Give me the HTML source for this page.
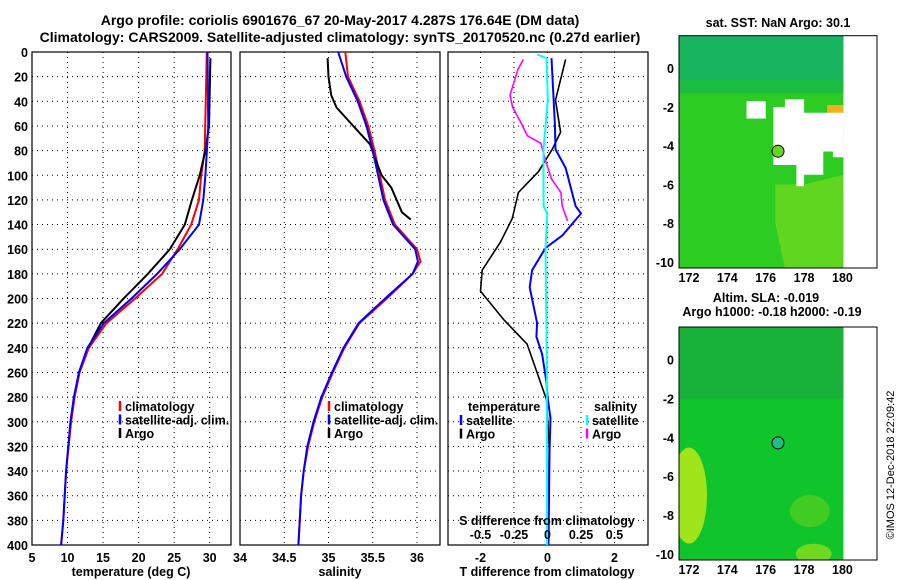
<!DOCTYPE html>
<html><head><meta charset="utf-8">
<style>
html,body{margin:0;padding:0;background:#fff;}
svg{display:block;font-family:"Liberation Sans",sans-serif;font-weight:bold;}
</style></head>
<body>
<svg id="c" width="900" height="580" viewBox="0 0 900 580" xmlns="http://www.w3.org/2000/svg">
<defs id="defs"></defs>
<text x="340" y="25" font-size="14" text-anchor="middle">Argo profile: coriolis 6901676_67 20-May-2017 4.287S 176.64E (DM data)</text>
<text x="340" y="42" font-size="14" text-anchor="middle">Climatology: CARS2009. Satellite-adjusted climatology: synTS_20170520.nc (0.27d earlier)</text>
<g id="g"></g>
</svg>
<script>
// ---- data ----
const depthTicks=[0,20,40,60,80,100,120,140,160,180,200,220,240,260,280,300,320,340,360,380,400];
const tempTicks=[5,10,15,20,25,30];
const salTicks=[34,34.5,35,35.5,36];
const dTTicks=[-2,-1,0,1,2];
const dTLabels=[-2,0,2];
const dSLabels=[-0.5,-0.25,0,0.25,0.5];
const climTdep=[0,80,100,120,140,160,180,200,220,240,260,280,300,340,380,400];
const climT=[29.6,29.3,28.8,28.5,27.4,25.5,23.3,19.5,15.5,13.0,11.7,11.0,10.5,9.8,9.4,9.1];
const satTdep=[0,60,100,120,140,160,180,200,220,240,260,280,300,340,380,400];
const satT=[29.7,29.8,29.4,29.1,28.5,25.8,22.6,19.0,15.1,12.8,11.6,10.9,10.4,9.8,9.4,9.1];
const argoTdep=[5,60,80,100,120,140,160,180,200,220,240];
const argoT=[30.1,29.9,29.4,28.6,27.5,26.5,24.4,21.3,17.9,14.7,12.9];
const climSdep=[0,20,40,60,80,100,120,140,160,170,180,200,220,240,260,280,300,320,340,360,400];
const climS=[35.19,35.22,35.35,35.45,35.52,35.58,35.64,35.75,36.0,36.04,35.95,35.66,35.35,35.18,35.05,34.93,34.84,34.77,34.72,34.69,34.66];
const satSdep=[0,20,40,60,80,100,120,140,160,170,180,200,220,240,260,280,300,320,340,360,400];
const satS=[35.11,35.2,35.33,35.43,35.5,35.56,35.62,35.73,35.98,36.01,35.95,35.64,35.34,35.17,35.04,34.92,34.83,34.76,34.72,34.69,34.66];
const argoSdep=[5,20,35,45,60,75,85,100,110,120,130,136];
const argoS=[34.99,35.0,35.03,35.09,35.28,35.47,35.52,35.6,35.71,35.77,35.83,35.93];
const dTsatDep=[5,59,79,94,125,131,149,159,177,191,220,231,245,268,280,297,325,400];
const dTsat=[0.12,0.22,0.24,0.54,0.84,1.0,0.44,-0.06,-0.46,-0.53,-0.31,-0.33,-0.16,-0.03,0,0.09,0.06,0.03];
const dTargoDep=[6,39,65,79,97,114,135,154,177,194,217,237,282,320,400];
const dTargo=[0.54,0.24,0.39,0.14,-0.27,-0.87,-1.05,-1.4,-1.95,-2.0,-1.31,-0.61,-0.03,0.05,0.03];
const dSsatDep=[2,5,39,79,125,131,159,250,400];
const dSsat=[-0.077,-0.007,0.002,-0.03,-0.03,-0.002,-0.015,-0.005,-0.003];
const dSargoDep=[6,14,35,45,57,68,74,88,103,114,125,137];
const dSargo=[-0.18,-0.22,-0.28,-0.26,-0.2,-0.15,-0.05,-0.015,0.03,0.1,0.11,0.15];
const lonTicks=[172,174,176,178,180];
const latTicks=[0,-2,-4,-6,-8,-10];
const argoLon=176.64, argoLat=-4.287;

const NS="http://www.w3.org/2000/svg";
const G=document.getElementById('g');
const DEFS=document.getElementById('defs');
function el(tag,attrs,parent){const e=document.createElementNS(NS,tag);for(const k in attrs)e.setAttribute(k,attrs[k]);(parent||G).appendChild(e);return e;}
function txt(x,y,s,size,anchor,parent){const t=el('text',{x:x,y:y,'font-size':size||12,'text-anchor':anchor||'middle'},parent);t.textContent=s;return t;}
const Y0=52,Y1=545;
const yD=d=>Y0+d*(Y1-Y0)/400;
function panel(name,x0,x1,xmin,xmax,ticks,labels,showY){
  const xs=v=>x0+(v-xmin)*(x1-x0)/(xmax-xmin);
  const g=el('g',{});
  
  
  depthTicks.forEach(d=>{ if(d>0&&d<400){const l=el('line',{x1:x0,x2:x1,y1:yD(d),y2:yD(d),stroke:'#000','stroke-width':1,'stroke-dasharray':'1,4'},g);}
    if(showY){const t=txt(x0-4,yD(d)+5,String(d),12.5,'end',g);}});
  ticks.forEach(v=>{const x=xs(v);if(x>x0+2&&x<x1-2){const l=el('line',{x1:x,x2:x,y1:Y0,y2:Y1,stroke:'#000','stroke-width':1,'stroke-dasharray':'1,4'},g);}});
  labels.forEach(v=>{const t=txt(xs(v),562,String(v),12.5,'middle',g);});
  const r=el('rect',{x:x0,y:Y0,width:x1-x0,height:Y1-Y0,fill:'none',stroke:'#000','stroke-width':1.2},g);
  
  return {xs,g};
}
function line(p,xsFn,vals,deps,color,name,w){
  const pts=vals.map((v,i)=>xsFn(v).toFixed(1)+','+yD(deps[i]).toFixed(1)).join(' ');
  const l=el('polyline',{points:pts,fill:'none',stroke:color,'stroke-width':w||2},p.g);
  
}
function legend(p,x,y,items){
  items.forEach((it,i)=>{const yy=y+i*13.5;
    const m=el('line',{x1:x,x2:x,y1:yy-10,y2:yy,stroke:it[1],'stroke-width':2.5},p.g);
    
    const t=txt(x+5,yy,it[0],12.5,'start',p.g);});
}
// panel 1
const p1=panel('temperature-panel',32,231,5,33,tempTicks,[5,10,15,20,25,30],true);
line(p1,p1.xs,climT,climTdep,'#f00','climatology-temp-line');
line(p1,p1.xs,argoT,argoTdep,'#000','argo-temp-line');
line(p1,p1.xs,satT,satTdep,'#00f','satellite-temp-line');
legend(p1,120,411,[['climatology','#f00'],['satellite-adj. clim.','#00f'],['Argo','#000']]);
txt(131,576,'temperature (deg C)',12.5);
// panel 2
const p2=panel('salinity-panel',240,440,34,36.26,salTicks,[34,34.5,35,35.5,36],false);
line(p2,p2.xs,climS,climSdep,'#f00','climatology-sal-line');
line(p2,p2.xs,argoS,argoSdep,'#000','argo-sal-line');
line(p2,p2.xs,satS,satSdep,'#00f','satellite-sal-line');
legend(p2,329,411,[['climatology','#f00'],['satellite-adj. clim.','#00f'],['Argo','#000']]);
txt(340,576,'salinity',12.5);
// panel 3
const p3=panel('difference-panel',448,648,-2.97,3.0,dTTicks,dTLabels,false);
const xsS=v=>p3.xs(v*4);
line(p3,p3.xs,dTargo,dTargoDep,'#000','argo-temp-diff-line',1.6);
line(p3,p3.xs,dTsat,dTsatDep,'#00f','satellite-temp-diff-line',2);
line(p3,xsS,dSargo,dSargoDep,'#f0f','argo-sal-diff-line',1.6);
line(p3,xsS,dSsat,dSsatDep,'#0ff','satellite-sal-diff-line',2);
txt(468,411,'temperature',12.5,'start',p3.g);
legend(p3,461,425,[['satellite','#00f'],['Argo','#000']]);
txt(594,411,'salinity',12.5,'start',p3.g);
legend(p3,587,425,[['satellite','#0ff'],['Argo','#f0f']]);
txt(547,525,'S difference from climatology',12.5,'middle',p3.g);
dSLabels.forEach(v=>{const t=txt(xsS(v),539,String(v),12.5,'middle',p3.g);});
txt(547,576,'T difference from climatology',12.5);

// maps
function map(name,top,bot,kind){
  const x0=679,x1=877,lonMin=171.48,lonMax=181.8;
  const xs=l=>x0+(l-lonMin)*(x1-x0)/(lonMax-lonMin);
  const ys=l=>top+(1.68-l)*(bot-top)/12.0;
  const cp=el('clipPath',{id:'clip-'+kind},DEFS);
  el('rect',{x:x0,y:top,width:x1-x0,height:bot-top},cp);
  const g=el('g',{});
  
  const f=el('g',{'clip-path':'url(#clip-'+kind+')'},g);
  const xe=xs(180.05);
  if(kind==='sst'){
    el('rect',{x:x0,y:top,width:xe-x0,height:bot-top,fill:'#2ccc22'},f);
    el('rect',{x:x0,y:top,width:xe-x0,height:ys(-0.6)-top,fill:'#18b45e'},f);
    el('rect',{x:x0,y:ys(-0.6),width:xe-x0,height:ys(-1.3)-ys(-0.6),fill:'#1cbc40'},f);
    el('polygon',{points:[[176.5,-6],[178,-6],[180.05,-5.5],[180.05,-10.34],[177,-10.34],[176.5,-8]].map(p=>xs(p[0])+','+ys(p[1])).join(' '),fill:'#60d620'},f);
    el('rect',{x:xs(179.2),y:ys(-1.9),width:xe-xs(179.2),height:ys(-2.5)-ys(-1.9),fill:'#f0b020'},f);
    el('polygon',{points:[[176.4,-2],[177,-2],[177,-1.6],[178,-1.6],[178,-2.3],[180.05,-2.3],[180.05,-4.6],[179.5,-4.6],[179.5,-4.3],[179,-4.3],[179,-5.5],[178,-5.5],[178,-6.1],[177.6,-6.1],[177.6,-5],[176.4,-5]].map(p=>xs(p[0])+','+ys(p[1])).join(' '),fill:'#fff'},f);
    el('rect',{x:xs(175),y:ys(-1.7),width:xs(176)-xs(175),height:ys(-2.6)-ys(-1.7),fill:'#fff'},f);
  } else {
    el('rect',{x:x0,y:top,width:xe-x0,height:bot-top,fill:'#10c42c'},f);
    el('rect',{x:x0,y:top,width:xe-x0,height:ys(-2)-top,fill:'#18b23a'},f);
    el('ellipse',{cx:xs(172),cy:ys(-7),rx:18,ry:48,fill:'#a0e41c'},f);
    el('ellipse',{cx:xs(178.3),cy:ys(-7.8),rx:20,ry:16,fill:'#40cc22'},f);
    el('ellipse',{cx:xs(178.5),cy:ys(-10),rx:18,ry:10,fill:'#70d820'},f);
  }
  const pt=el('circle',{cx:xs(argoLon),cy:ys(argoLat),r:6,fill:kind==='sst'?'#66d818':'#18c08a',stroke:'#000','stroke-width':1},g);
  
  const fr=el('rect',{x:x0,y:top,width:x1-x0,height:bot-top,fill:'none',stroke:'#000','stroke-width':1},g);
  
  lonTicks.forEach(l=>{const t=txt(xs(l),bot+14,String(l),12.5,'middle',g);});
  latTicks.forEach(l=>{const t=txt(x0-5,ys(l)+5,String(l),12.5,'end',g);});
}
map('sst-map',35.7,268,'sst');
map('sla-map',327,560,'sla');
txt(778,27,'sat. SST: NaN Argo: 30.1',12.5);
txt(766,302,'Altim. SLA: -0.019',12.5);
txt(772,316,'Argo h1000: -0.18 h2000: -0.19',12.5);
const cr=txt(0,0,'©IMOS 12-Dec-2018 22:09:42',11,'middle');
cr.setAttribute('font-weight','normal');
cr.setAttribute('transform','translate(894,465) rotate(-90)');

</script>
</body></html>
